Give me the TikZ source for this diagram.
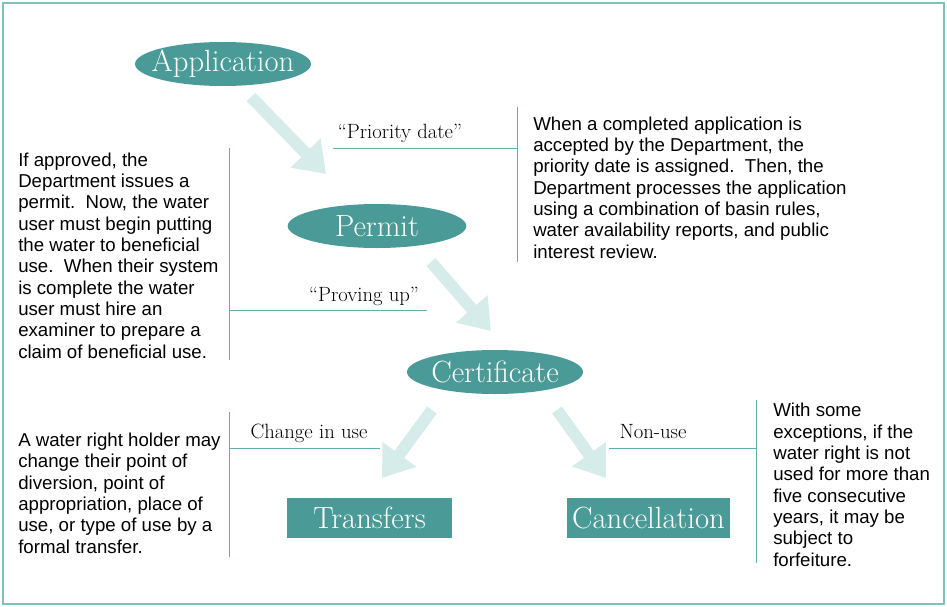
\documentclass[tikz,border=0pt]{standalone}
\usepackage{fontspec}
\newfontfamily\textsans{Liberation Sans}
\usepackage{tikz}
\usetikzlibrary{shapes.geometric,arrows.meta}

\definecolor{tealfill}{HTML}{4A9A98}
\definecolor{tealline}{HTML}{5FB0AE}
\definecolor{framec}{HTML}{80C0BE}
\definecolor{flowc}{HTML}{D6ECEA}

\begin{document}
\begin{tikzpicture}[x=0.75pt,y=-0.75pt,
  stage/.style={ellipse, fill=tealfill, text=white, inner xsep=-7pt, inner ysep=-6pt,
    minimum width=132pt, minimum height=33pt, font=\fontsize{23}{26}\selectfont},
  endbox/.style={rectangle, fill=tealfill, text=white, inner sep=0pt,
    minimum height=30pt, font=\fontsize{23}{26}\selectfont},
  flow/.style={line width=9pt, flowc, -{Triangle[length=22pt,width=30pt]}},
  tag/.style={font=\fontsize{15.5}{18}\selectfont, inner sep=0pt, anchor=base},
  rule/.style={tealline, line width=0.75pt},
  note/.style={font=\textsans\fontsize{14}{16}\selectfont, align=left,
    inner sep=0pt, anchor=base west}]

\useasboundingbox (0,0) rectangle (947,607);
\draw [framec, line width=1.5pt] (3,3) rectangle (944,604);

% stages
\node [stage] (appl) at (223,64) {Application};
\node [stage, minimum width=134pt] (permit) at (377,226) {Permit};
\node [stage] (cert) at (495,372) {Certificate};
\node [endbox, minimum width=124pt] (trans) at (369.5,518) {Transfers};
\node [endbox, minimum width=122pt] (cancel) at (648.5,518) {Cancellation};

% arrow ends
\coordinate (f1a) at (251,97);
\coordinate (f1b) at (326,174);
\coordinate (f2a) at (431,262);
\coordinate (f2b) at (491,331);
\coordinate (f3a) at (432,410);
\coordinate (f3b) at (382,478);
\coordinate (f4a) at (557,410);
\coordinate (f4b) at (606,478);

\draw [flow] (f1a) -- (f1b);
\draw [flow] (f2a) -- (f2b);
\draw [flow] (f3a) -- (f3b);
\draw [flow] (f4a) -- (f4b);

% labels and rules
\node [tag] (prio) at (400,138) {``Priority date''};
\coordinate (r1a) at (333,148);
\coordinate (r1b) at (517,148);
\draw [rule] (r1a) -- (r1b);
\draw [rule] (517,107) -- (517,262);

\node [tag] (prove) at (364,301) {``Proving up''};
\coordinate (r2a) at (229,310);
\coordinate (r2b) at (427,310);
\draw [rule] (r2a) -- (r2b);
\draw [rule] (229,148) -- (229,360);

\node [tag] (change) at (309,438) {Change in use};
\coordinate (r3a) at (229,448);
\coordinate (r3b) at (380,448);
\draw [rule] (r3a) -- (r3b);
\draw [rule] (229,412) -- (229,557);

\node [tag] (nonuse) at (653,438) {Non-use};
\coordinate (r4a) at (609,448);
\coordinate (r4b) at (756,448);
\draw [rule] (r4a) -- (r4b);
\draw [rule] (756,400) -- (756,563);

% notes (anchored on the last line)
\node [note] (n1) at (533,258) {When a completed application is\\
accepted by the Department, the\\
priority date is assigned.\ \ Then, the\\
Department processes the application\\
using a combination of basin rules,\\
water availability reports, and public\\
interest review.};

\node [note] (n2) at (18,358) {If approved, the\\
Department issues a\\
permit.\ \ Now, the water\\
user must begin putting\\
the water to beneficial\\
use.\ \ When their system\\
is complete the water\\
user must hire an\\
examiner to prepare a\\
claim of beneficial use.};

\node [note] (n3) at (18,553) {A water right holder may\\
change their point of\\
diversion, point of\\
appropriation, place of\\
use, or type of use by a\\
formal transfer.};

\node [note] (n4) at (773,566) {With some\\
exceptions, if the\\
water right is not\\
used for more than\\
five consecutive\\
years, it may be\\
subject to\\
forfeiture.};

\end{tikzpicture}
\end{document}
